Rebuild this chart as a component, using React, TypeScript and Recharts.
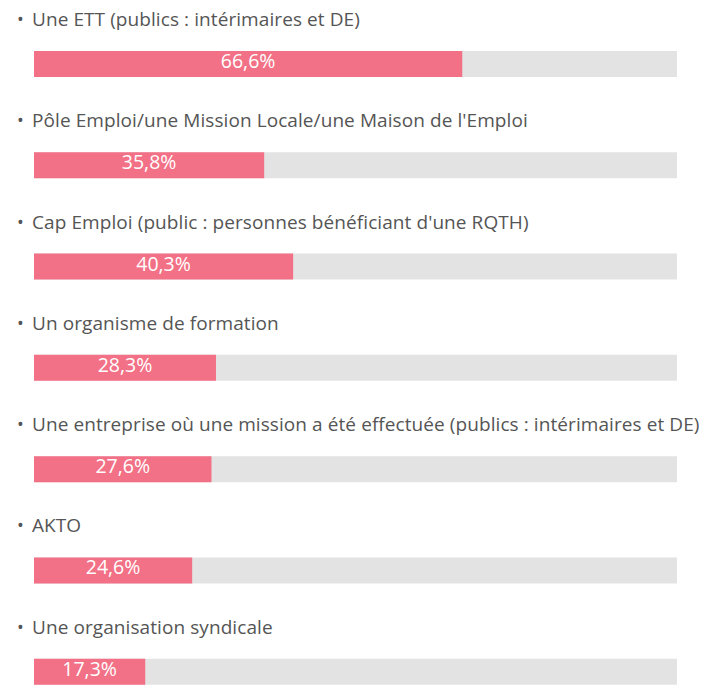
import React from 'react';
import { BarChart, Bar, XAxis, YAxis, LabelList } from 'recharts';

const categories = [
    "Une ETT (publics : intérimaires et DE)",
    "Pôle Emploi/une Mission Locale/une Maison de l'Emploi",
    "Cap Emploi (public : personnes bénéficiant d'une RQTH)",
    "Un organisme de formation",
    "Une entreprise où une mission a été effectuée (publics : intérimaires et DE)",
    "AKTO",
    "Une organisation syndicale",
];
const values = [66.6, 35.8, 40.3, 28.3, 27.6, 24.6, 17.3];

const data = categories.map((name, i) => ({ name, value: values[i] }));

const PINK = '#f27186';
const TRACK = '#e3e3e3';
const TEXT = '#555555';
const FONT = '"Open Sans", sans-serif';

const formatPct = (v: number) => `${v.toFixed(1).replace('.', ',')}%`;

const NameLabel: React.FC<any> = ({ y, value }) => (
    <g>
        <text x={17} y={y - 25} fill={TEXT} fontSize={18} fontFamily={FONT}>•</text>
        <text x={32} y={y - 25} fill={TEXT} fontSize={19} fontFamily={FONT} letterSpacing={0.08}>{value}</text>
    </g>
);

const ValueLabel: React.FC<any> = ({ x, y, width, value }) => (
    <text
        x={x + width / 2}
        y={y + 17}
        fill="#ffffff"
        fontSize={19.5}
        fontFamily={FONT}
        textAnchor="middle"
    >
        {formatPct(value)}
    </text>
);

export default function App() {
    return (
        <div style={{ position: 'absolute', left: 0, top: 0, width: 702, height: 691, overflow: 'hidden', background: '#fff' }}>
            <BarChart
                width={702}
                height={722}
                data={data}
                layout="vertical"
                margin={{ top: 13, right: 25, left: 34, bottom: 0 }}
                barSize={26}
            >
                <XAxis type="number" domain={[0, 100]} hide />
                <YAxis type="category" dataKey="name" hide />
                <Bar
                    dataKey="value"
                    fill={PINK}
                    background={{ fill: TRACK }}
                    isAnimationActive={false}
                >
                    <LabelList dataKey="name" content={<NameLabel />} />
                    <LabelList dataKey="value" content={<ValueLabel />} />
                </Bar>
            </BarChart>
        </div>
    );
}
